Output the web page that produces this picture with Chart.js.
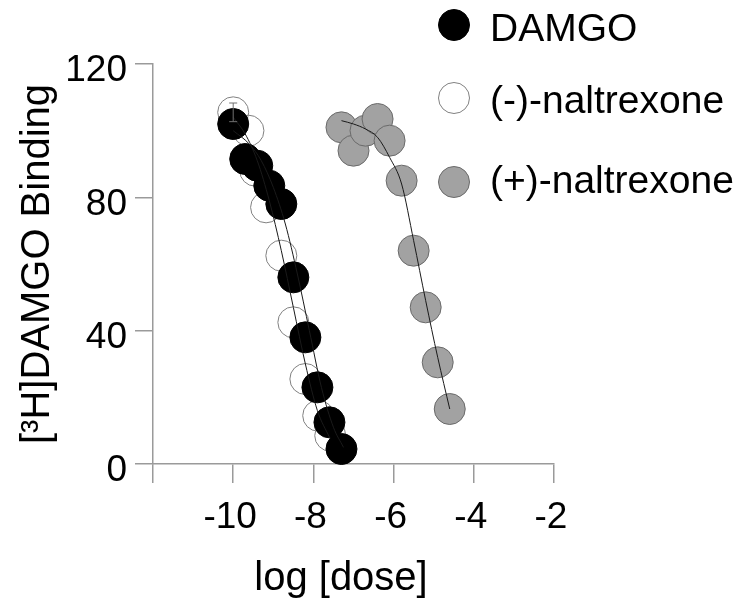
<!DOCTYPE html>
<html>
<head>
<meta charset="utf-8">
<script src="https://cdn.jsdelivr.net/npm/chart.js@4.4.0/dist/chart.umd.min.js"></script>
<style>
    body { margin: 0; background: #fff; }
    #wrap { width: 742px; height: 605px; }
</style>
</head>
<body>
<div id="wrap"><canvas id="chart" width="742" height="605"></canvas></div>
<script>
// values (log dose, % specific binding)
const damgoDose = [-10, -9.7, -9.4, -9.1, -8.8, -8.5, -8.2, -7.9, -7.6, -7.3];
const damgoBinding = [102, 91.5, 89.5, 83.5, 78, 56, 38, 23, 12.5, 4.5];

const minusDose = [-10, -9.62, -9.45, -9.18, -8.8, -8.5, -8.2, -7.88, -7.58];
const minusBinding = [105.5, 100, 88, 77, 62.5, 42.5, 25.5, 14.5, 8.5];
const minusError = [2.8, 0, 0, 0, 0, 0, 0, 0, 0];

const plusDose = [-7.3, -7.0, -6.7, -6.4, -6.1, -5.8, -5.5, -5.2, -4.9, -4.6];
const plusBinding = [101, 94, 100, 103.5, 97, 85, 64, 47, 30.5, 16.5];

// fitted curves
const damgoFitDose = [-10, -9.6, -9.3, -9.0, -8.7, -8.4, -8.1, -7.8, -7.5, -7.25];
const damgoFitBinding = [100, 96, 91, 83, 72, 57, 40, 23, 11, 5];
const minusFitDose = [-10, -9.7, -9.4, -9.1, -8.8, -8.5, -8.2, -7.9, -7.6];
const minusFitBinding = [104, 99, 91, 79, 64, 47, 30, 16, 8];
const plusFitDose = [-7.3, -7.0, -6.7, -6.4, -6.1, -5.8, -5.5, -5.2, -4.9, -4.6];
const plusFitBinding = [103, 102, 100.5, 98, 92, 84, 67, 49, 32, 16.5];

const names = ['DAMGO', '(-)-naltrexone', '(+)-naltrexone'];
const xTicks = [-12, -10, -8, -6, -4, -2];
const xTickLabels = ['', '-10', '-8', '-6', '-4', '-2'];
const yTicks = [0, 40, 80, 120];
const yTickLabels = ['0', '40', '80', '120'];
const xTitle = 'log [dose]';
const yTitle = '[³H]DAMGO Binding';

const family = '"Liberation Sans", Arial, sans-serif';
const axisColor = '#9a9a9a';

const toXY = (xs, ys) => xs.map((x, i) => ({ x, y: ys[i] }));

const pointSet = (label, xs, ys, fill, stroke, order) => ({
    label,
    data: toXY(xs, ys),
    showLine: false,
    pointRadius: 15.5,
    pointHoverRadius: 15.5,
    pointBackgroundColor: fill,
    pointBorderColor: stroke,
    pointBorderWidth: 1,
    order,
    clip: false
});

const fitSet = (xs, ys) => ({
    data: toXY(xs, ys),
    showLine: true,
    pointRadius: 0,
    borderColor: '#1a1a1a',
    borderWidth: 1,
    cubicInterpolationMode: 'monotone',
    fill: false,
    order: 0
});

// error bar on the first (-)-naltrexone point
const errorBars = {
    id: 'errorBars',
    afterDatasetsDraw(chart) {
        const { ctx, scales: { x, y } } = chart;
        ctx.save();
        ctx.strokeStyle = '#707070';
        ctx.lineWidth = 1;
        minusError.forEach((err, i) => {
            if (!err) return;
            const px = x.getPixelForValue(minusDose[i]);
            const top = y.getPixelForValue(minusBinding[i] + err);
            const bot = y.getPixelForValue(minusBinding[i] - err);
            ctx.beginPath();
            ctx.moveTo(px, top); ctx.lineTo(px, bot);
            ctx.moveTo(px - 4, top); ctx.lineTo(px + 4, top);
            ctx.moveTo(px - 4, bot); ctx.lineTo(px + 4, bot);
            ctx.stroke();
        });
        ctx.restore();
    }
};

// legend top right + x axis title (sits a bit left of the axis centre in the original)
const extras = {
    id: 'extras',
    afterDraw(chart) {
        const ctx = chart.ctx;
        const rows = [25, 98, 182];
        const baselines = [41, 113, 193];
        ctx.save();
        ctx.font = '39px ' + family;
        ctx.textBaseline = 'alphabetic';
        ctx.textAlign = 'left';
        [0, 1, 2].forEach(i => {
            const ds = chart.data.datasets[i];
            ctx.beginPath();
            ctx.arc(454, rows[i], 15.5, 0, Math.PI * 2);
            ctx.fillStyle = ds.pointBackgroundColor;
            ctx.fill();
            ctx.lineWidth = 1;
            ctx.strokeStyle = ds.pointBorderColor;
            ctx.stroke();
            ctx.fillStyle = '#000';
            ctx.fillText(ds.label, 490, baselines[i]);
        });

        ctx.font = '40px ' + family;
        ctx.textAlign = 'center';
        ctx.fillText(xTitle, 341, 590);
        ctx.restore();
    }
};

new Chart(document.getElementById('chart'), {
    type: 'scatter',
    data: {
        datasets: [
            pointSet(names[0], damgoDose, damgoBinding, '#000000', '#000000', 1),
            pointSet(names[1], minusDose, minusBinding, 'rgba(255,255,255,0)', '#808080', 3),
            pointSet(names[2], plusDose, plusBinding, '#a2a2a2', '#6a6a6a', 2),
            fitSet(damgoFitDose, damgoFitBinding),
            fitSet(minusFitDose, minusFitBinding),
            fitSet(plusFitDose, plusFitBinding)
        ]
    },
    options: {
        responsive: false,
        animation: false,
        devicePixelRatio: 1,
        layout: { padding: { top: 64, right: 188, bottom: 0, left: 0 } },
        plugins: { legend: { display: false }, tooltip: { enabled: false } },
        scales: {
            x: {
                type: 'linear',
                min: -12,
                max: -2,
                afterFit: s => { s.height = 141; },
                afterBuildTicks: s => { s.ticks = xTicks.map(v => ({ value: v })); },
                grid: { drawOnChartArea: false, drawTicks: true, tickLength: 19, color: axisColor, lineWidth: 1.5 },
                border: { color: axisColor, width: 1.5 },
                ticks: {
                    callback: (v, i) => xTickLabels[i],
                    font: { size: 37, family },
                    color: '#000',
                    padding: 13,
                    labelOffset: -3,
                    maxRotation: 0,
                    autoSkip: false
                },
                title: { display: false }
            },
            y: {
                type: 'linear',
                min: 0,
                max: 120,
                afterFit: s => { s.width = 153; },
                afterBuildTicks: s => { s.ticks = yTicks.map(v => ({ value: v })); },
                grid: { drawOnChartArea: false, drawTicks: true, tickLength: 18, color: axisColor, lineWidth: 1.5 },
                border: { color: axisColor, width: 1.5 },
                ticks: {
                    callback: (v, i) => yTickLabels[i],
                    font: { size: 37, family },
                    color: '#000',
                    padding: 8,
                    labelOffset: 7,
                    autoSkip: false
                },
                title: {
                    display: true,
                    text: yTitle,
                    font: { size: 40, family },
                    color: '#000',
                    padding: { top: 14, bottom: 0 }
                }
            }
        }
    },
    plugins: [errorBars, extras]
});
</script>
</body>
</html>
